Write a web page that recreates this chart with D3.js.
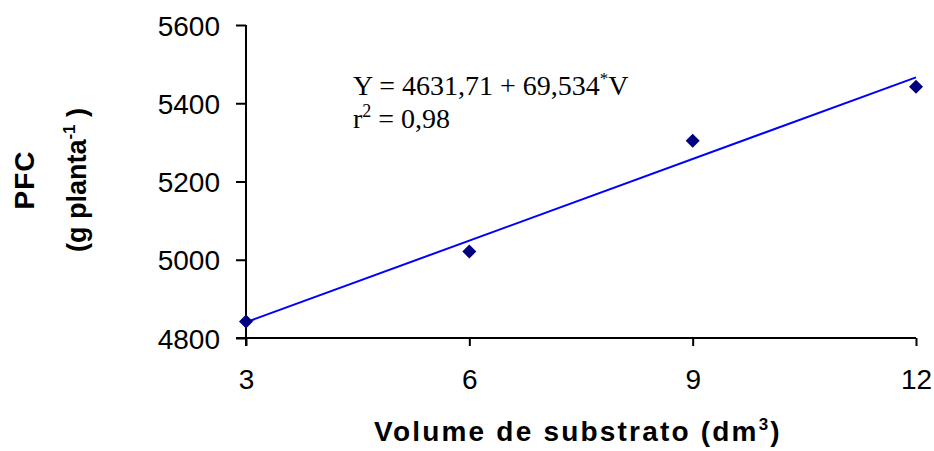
<!DOCTYPE html>
<html>
<head>
<meta charset="utf-8">
<script src="https://cdn.jsdelivr.net/npm/d3@7"></script>
<style>
  html, body { margin: 0; padding: 0; background: #fff; }
  svg { display: block; }
</style>
</head>
<body>
<svg id="chart" width="934" height="451"></svg>
<script>
// Substrate volume (dm³) and fresh fruit mass per plant (g planta⁻¹)
const volumes = [3, 6, 9, 12];
const pfc = [4842, 5021, 5304, 5442];
const xTicks = [3, 6, 9, 12];
const yTicks = [4800, 5000, 5200, 5400, 5600];
// Fitted regression: Y = a + b·V
const intercept = 4631.71;
const slope = 69.534;

const svg = d3.select("#chart");
const plotLeft = 246, plotRight = 916, plotTop = 25, plotBottom = 338;

const x = d3.scaleLinear().domain([3, 12]).range([plotLeft, plotRight]);
const y = d3.scaleLinear().domain([4800, 5600]).range([plotBottom, plotTop]);

const sans = "Arial, 'Liberation Sans', sans-serif";
const serif = "'Times New Roman', 'Liberation Serif', serif";

// Y axis
const yAxis = svg.append("g")
  .attr("transform", `translate(${plotLeft},0)`)
  .call(d3.axisLeft(y).tickValues(yTicks).tickFormat(d3.format("d"))
    .tickSize(10).tickPadding(16).tickSizeOuter(0));
yAxis.select(".domain").remove();
yAxis.append("line").attr("x1", 0).attr("x2", 0).attr("y1", plotTop).attr("y2", plotBottom + 8)
  .attr("stroke", "#000").attr("stroke-width", 2);
yAxis.selectAll(".tick line").attr("stroke", "#000").attr("stroke-width", 2);
yAxis.selectAll(".tick text").attr("fill", "#000")
  .style("font-family", sans).style("font-size", "28px").attr("dy", "0.36em");

// X axis
const xAxis = svg.append("g")
  .attr("transform", `translate(0,${plotBottom})`)
  .call(d3.axisBottom(x).tickValues(xTicks).tickFormat(d3.format("d"))
    .tickSize(8).tickPadding(23).tickSizeOuter(0));
xAxis.select(".domain").remove();
xAxis.append("line").attr("x1", plotLeft - 10).attr("x2", plotRight).attr("y1", 0).attr("y2", 0)
  .attr("stroke", "#000").attr("stroke-width", 2);
xAxis.selectAll(".tick line").attr("stroke", "#000").attr("stroke-width", 2);
xAxis.selectAll(".tick text").attr("fill", "#000")
  .style("font-family", sans).style("font-size", "28px");

// Regression line
const fit = v => intercept + slope * v;
svg.append("line")
  .attr("x1", x(3)).attr("y1", y(fit(3)))
  .attr("x2", x(12)).attr("y2", y(fit(12)))
  .attr("stroke", "#0000ff").attr("stroke-width", 2);

// Observed means as diamonds
svg.append("g").selectAll("path")
  .data(volumes.map((v, i) => [v, pfc[i]]))
  .join("path")
  .attr("transform", d => `translate(${x(d[0])},${y(d[1])})`)
  .attr("d", "M0,-7L7,0L0,7L-7,0Z")
  .attr("fill", "#000080");

// Equation and coefficient of determination
const eq = svg.append("text")
  .attr("x", 353).attr("y", 95)
  .style("font-family", serif).style("font-size", "28px").attr("fill", "#000");
eq.append("tspan").text("Y = 4631,71 + 69,534");
eq.append("tspan").text("*").attr("dy", -11).style("font-size", "17px");
eq.append("tspan").text("V").attr("dy", 11);

const r2 = svg.append("text")
  .attr("x", 353).attr("y", 128)
  .style("font-family", serif).style("font-size", "28px").attr("fill", "#000");
r2.append("tspan").text("r");
r2.append("tspan").text("2").attr("dy", -11).style("font-size", "18px");
r2.append("tspan").text(" = 0,98").attr("dy", 11);

// Axis titles
svg.append("text")
  .attr("transform", "translate(34,180) rotate(-90)")
  .attr("text-anchor", "middle")
  .style("font-family", sans).style("font-size", "28px").style("font-weight", "bold")
  .style("letter-spacing", "1px")
  .text("PFC");

const yt = svg.append("text")
  .attr("transform", "translate(86,180) rotate(-90)")
  .attr("text-anchor", "middle")
  .style("font-family", sans).style("font-size", "27px").style("font-weight", "bold");
yt.append("tspan").text("(g planta");
yt.append("tspan").text("-1").attr("dy", -11).style("font-size", "17px");
yt.append("tspan").text(" )").attr("dy", 11);

const xt = svg.append("text")
  .attr("x", 578).attr("y", 441)
  .attr("text-anchor", "middle")
  .style("font-family", sans).style("font-size", "28px").style("font-weight", "bold")
  .style("letter-spacing", "2.2px");
xt.append("tspan").text("Volume de substrato (dm");
xt.append("tspan").text("3").attr("dy", -11).style("font-size", "17px");
xt.append("tspan").text(")").attr("dy", 11);
</script>
</body>
</html>
